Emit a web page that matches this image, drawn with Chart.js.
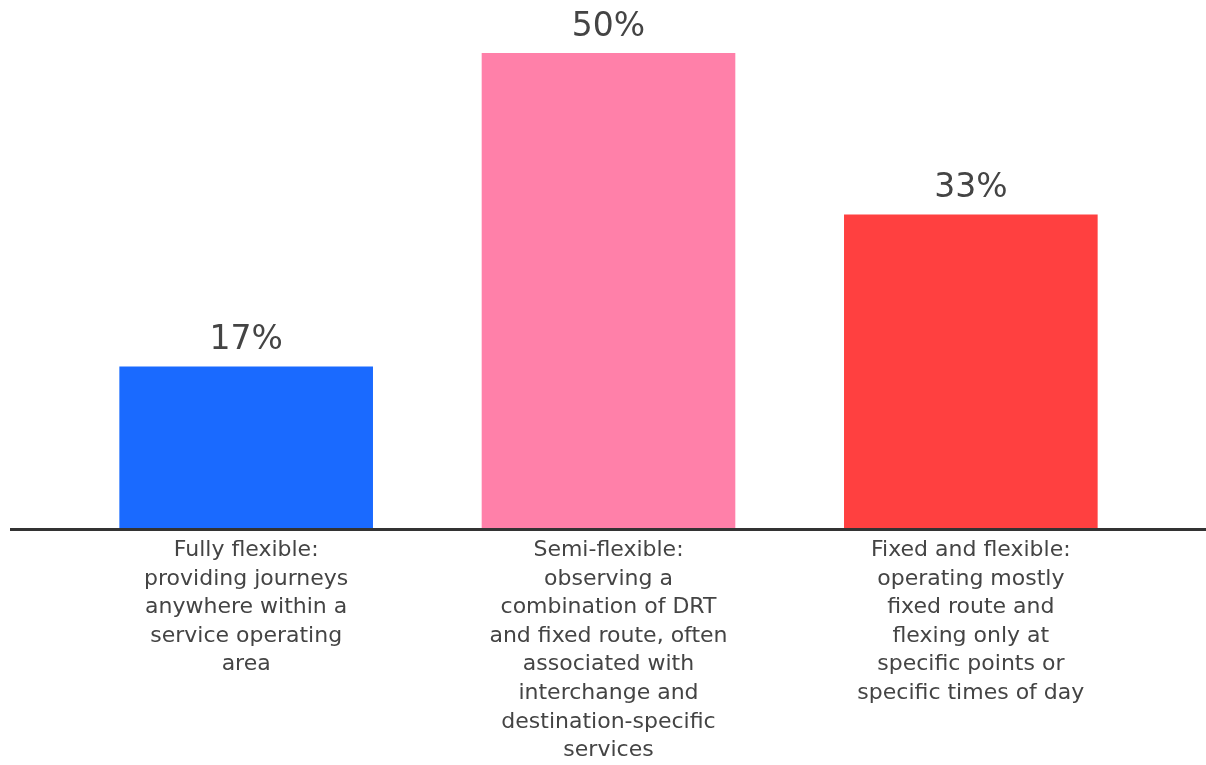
<!DOCTYPE html>
<html lang="en">
<head>
  <meta charset="UTF-8" />
  <title>DRT service types</title>
  <script src="https://cdn.jsdelivr.net/npm/chart.js"></script>
  <style>
    html, body { margin: 0; padding: 0; background: #fff; }
    #wrap { width: 1206px; height: 765px; }
  </style>
</head>
<body>
  <div id="wrap"><canvas id="chart"></canvas></div>

  <script>
    const categories = [
      ['Fully flexible:', 'providing journeys', 'anywhere within a', 'service operating', 'area'],
      ['Semi-flexible:', 'observing a', 'combination of DRT', 'and fixed route, often', 'associated with', 'interchange and', 'destination-specific', 'services'],
      ['Fixed and flexible:', 'operating mostly', 'fixed route and', 'flexing only at', 'specific points or', 'specific times of day']
    ];
    const shares = [17, 50, 33];
    const barColors = ['#1a6aff', '#ff80a9', '#ff4040'];

    // value labels above each bar
    const valueLabels = {
      id: 'valueLabels',
      afterDatasetsDraw(chart) {
        const ctx = chart.ctx;
        const meta = chart.getDatasetMeta(0);
        ctx.save();
        ctx.font = '33px "DejaVu Sans", sans-serif';
        ctx.fillStyle = '#444';
        ctx.textAlign = 'center';
        ctx.textBaseline = 'middle';
        meta.data.forEach((bar, i) => {
          ctx.fillText(shares[i] + '%', bar.x, bar.y - 26);
        });
        ctx.restore();
      }
    };

    // baseline runs nearly the full width of the picture
    const baseline = {
      id: 'baseline',
      afterDatasetsDraw(chart) {
        const ctx = chart.ctx;
        const y = chart.scales.y.getPixelForValue(0);
        ctx.save();
        ctx.strokeStyle = '#333';
        ctx.lineWidth = 3;
        ctx.beginPath();
        ctx.moveTo(10, y + 1.5);
        ctx.lineTo(chart.width, y + 1.5);
        ctx.stroke();
        ctx.restore();
      }
    };

    new Chart(document.getElementById('chart'), {
      type: 'bar',
      data: {
        labels: categories,
        datasets: [{
          data: shares,
          backgroundColor: barColors,
          borderWidth: 0,
          barPercentage: 0.7,
          categoryPercentage: 1
        }]
      },
      options: {
        responsive: true,
        maintainAspectRatio: false,
        animation: false,
        layout: { padding: { top: 53, left: 65, right: 54, bottom: 0 } },
        plugins: {
          legend: { display: false },
          tooltip: { enabled: false }
        },
        scales: {
          y: {
            display: false,
            min: 0,
            max: 50
          },
          x: {
            grid: { display: false, drawTicks: false },
            border: { display: false },
            ticks: {
              color: '#444',
              font: { family: '"DejaVu Sans", sans-serif', size: 22, lineHeight: 1.3 },
              padding: 8,
              maxRotation: 0,
              autoSkip: false
            },
            afterFit(scale) { scale.height = 237; }
          }
        }
      },
      plugins: [valueLabels, baseline]
    });
  </script>
</body>
</html>
